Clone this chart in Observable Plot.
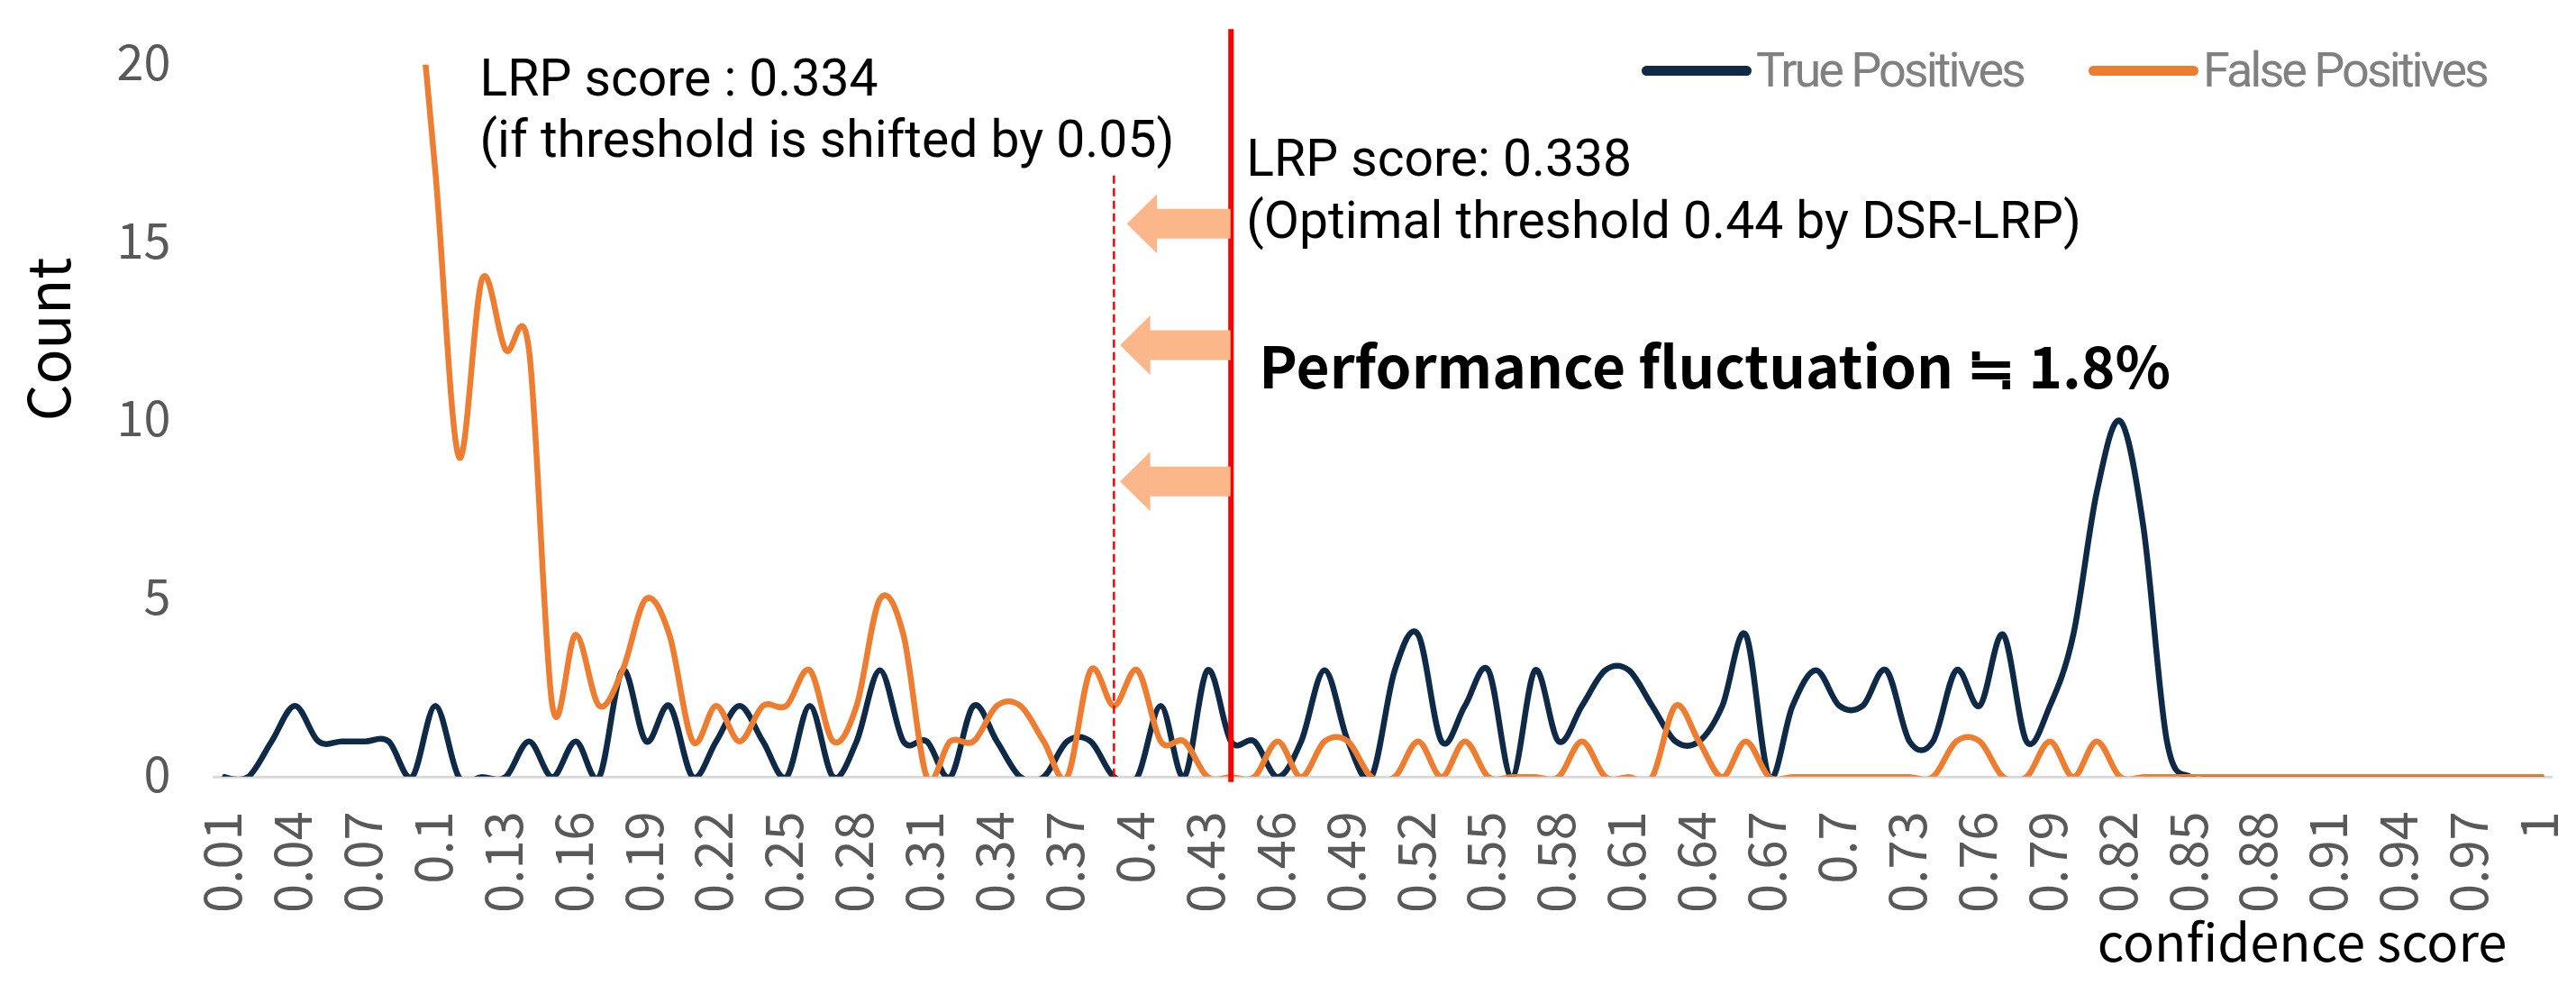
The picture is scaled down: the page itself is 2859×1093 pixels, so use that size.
<!DOCTYPE html>
<html>
<head>
<meta charset="utf-8">
<script src="https://cdn.jsdelivr.net/npm/d3@7"></script>
<script src="https://cdn.jsdelivr.net/npm/@observablehq/plot@0.6"></script>
<style>
  html, body { margin: 0; padding: 0; background: #fff; }
  #wrap { position: relative; width: 2859px; height: 1093px; overflow: hidden; }
  .lg-swatch { position: absolute; height: 11px; border-radius: 6px; }
  .lg-text { position: absolute; font-family: Roboto, "Noto Sans", sans-serif; font-size: 54px; color: #808080;
             letter-spacing: -3px; line-height: 1; white-space: nowrap; }
</style>
</head>
<body>
<div id="wrap"></div>
<script>
// ---- data ----
const scores = [
  0.01,0.02,0.03,0.04,0.05,0.06,0.07,0.08,0.09,0.10,
  0.11,0.12,0.13,0.14,0.15,0.16,0.17,0.18,0.19,0.20,
  0.21,0.22,0.23,0.24,0.25,0.26,0.27,0.28,0.29,0.30,
  0.31,0.32,0.33,0.34,0.35,0.36,0.37,0.38,0.39,0.40,
  0.41,0.42,0.43,0.44,0.45,0.46,0.47,0.48,0.49,0.50,
  0.51,0.52,0.53,0.54,0.55,0.56,0.57,0.58,0.59,0.60,
  0.61,0.62,0.63,0.64,0.65,0.66,0.67,0.68,0.69,0.70,
  0.71,0.72,0.73,0.74,0.75,0.76,0.77,0.78,0.79,0.80,
  0.81,0.82,0.83,0.84,0.85,0.86,0.87,0.88,0.89,0.90,
  0.91,0.92,0.93,0.94,0.95,0.96,0.97,0.98,0.99,1.00
];
const truePositives = [
  0,0,1,2,1,1,1,1,0,2,
  0,0,0,1,0,1,0,3,1,2,
  0,1,2,1,0,2,0,1,3,1,
  1,0,2,1,0,0,1,1,0,0,
  2,0,3,1,1,0,1,3,1,0,
  3,4,1,2,3,0,3,1,2,3,
  3,2,1,1,2,4,0,2,3,2,
  2,3,1,1,3,2,4,1,2,4,
  8,10,7,1,0,0,0,0,0,0,
  0,0,0,0,0,0,0,0,0,0
];
// low-score false positives run off the top of the 0–20 axis (clipped); unreadable bins left null
const falsePositives = [
  null,null,null,null,null,null,null,null,24,17,
  9,14,12,12,2,4,2,3,5,4,
  1,2,1,2,2,3,1,2,5,4,
  0,1,1,2,2,1,0,3,2,3,
  1,1,0,0,0,1,0,1,1,0,
  0,1,0,1,0,0,0,0,1,0,
  0,0,2,1,0,1,0,0,0,0,
  0,0,0,0,1,1,0,0,1,0,
  1,0,0,0,0,0,0,0,0,0,
  0,0,0,0,0,0,0,0,0,0
];
const xTickValues = [0.01,0.04,0.07,0.10,0.13,0.16,0.19,0.22,0.25,0.28,0.31,0.34,0.37,0.40,0.43,0.46,0.49,
  0.52,0.55,0.58,0.61,0.64,0.67,0.70,0.73,0.76,0.79,0.82,0.85,0.88,0.91,0.94,0.97,1.00];
const yTickValues = [0, 5, 10, 15, 20];
const seriesNames = ["True Positives", "False Positives"];
const seriesColors = ["#0e2a47", "#ed7d31"];

const optimalThreshold = 0.44;
const shiftedThreshold = 0.39;

const notes = [
  {text: "LRP score : 0.334\n(if threshold is shifted by 0.05)", x: 0.119, y: 18.835},
  {text: "LRP score: 0.338\n(Optimal threshold 0.44 by DSR-LRP)", x: 0.4466, y: 16.57}
];
const headline = [{text: "Performance fluctuation \u2252 1.8%", x: 0.452, y: 11.43}];
const arrows = [
  {y: 15.54, tip: 0.3955, base: 0.408},
  {y: 12.13, tip: 0.3926, base: 0.4055},
  {y: 8.30, tip: 0.3926, base: 0.4055}
];

// ---- tables ----
const tpRows = scores.map((s, i) => ({score: s, count: truePositives[i]}));
const fpRows = scores.map((s, i) => ({score: s, count: falsePositives[i]}));

const arrowHead = {
  draw(ctx, size) {
    const r = Math.sqrt(size / Math.PI);
    ctx.moveTo(0, 0);
    ctx.lineTo(r + 0.5, -r);
    ctx.lineTo(r + 0.5, r);
    ctx.closePath();
  }
};

const fmt = d => String(+d.toFixed(2));
const arrowColor = "#fbb68a";

const chart = Plot.plot({
  width: 2859,
  height: 1093,
  marginLeft: 236,
  marginRight: 26,
  marginTop: 71.7,
  marginBottom: 231.3,
  style: {fontFamily: "'Noto Sans CJK KR', 'Noto Sans', sans-serif", background: "#fff", overflow: "visible"},
  x: {domain: [0.005, 1.005]},
  y: {domain: [0, 20]},
  marks: [
    Plot.ruleY([0], {stroke: "#d9d9d9", strokeWidth: 3}),
    Plot.axisY({ticks: yTickValues, tickSize: 0, tickPadding: 47, fontSize: 54, color: "#595959", label: null}),
    Plot.axisX({ticks: xTickValues, tickFormat: fmt, tickRotate: -90, tickSize: 0, tickPadding: 38,
                fontSize: 58, color: "#595959", label: null}),
    Plot.line(tpRows, {x: "score", y: "count", stroke: seriesColors[0], strokeWidth: 6.5,
                       curve: "cardinal", tension: 0, clip: true, strokeLinecap: "round", strokeLinejoin: "round"}),
    Plot.line(fpRows, {x: "score", y: "count", stroke: seriesColors[1], strokeWidth: 6.5,
                       curve: "cardinal", tension: 0, clip: true, strokeLinecap: "round", strokeLinejoin: "round"}),
    Plot.ruleX([shiftedThreshold], {y1: 0, y2: 16.9, stroke: "#ff0000", strokeWidth: 2.5, strokeDasharray: "9,5"}),
    Plot.ruleX([optimalThreshold], {y1: -0.15, y2: 21, stroke: "#ff0000", strokeWidth: 6}),
    Plot.ruleY(arrows, {y: "y", x1: "base", x2: () => optimalThreshold, stroke: arrowColor, strokeWidth: 33}),
    Plot.dot(arrows, {x: "tip", y: "y", r: 33, symbol: arrowHead, fill: arrowColor, stroke: "none"}),
    Plot.text(notes, {x: "x", y: "y", text: "text", fontSize: 57, lineHeight: 1.2, fontFamily: "Roboto, sans-serif",
                      textAnchor: "start", lineAnchor: "middle", fill: "#000"}),
    Plot.text(headline, {x: "x", y: "y", text: "text", fontSize: 64, fontWeight: "bold",
                         textAnchor: "start", lineAnchor: "middle", fill: "#000"}),
    Plot.text(["Count"], {text: d => d, frameAnchor: "left", dx: -179, rotate: -90, fontSize: 64,
                          fill: "#000", lineAnchor: "middle"}),
    Plot.text(["confidence score"], {text: d => d, frameAnchor: "bottom-right", dx: -51, dy: 186,
                          textAnchor: "end", lineAnchor: "middle", fontSize: 58, fill: "#000"})
  ]
});

const wrap = document.getElementById("wrap");
wrap.appendChild(chart);

// legend (HTML, overlaid top-right as in the original)
const legendItems = [
  {name: seriesNames[0], color: seriesColors[0], left: 1822},
  {name: seriesNames[1], color: seriesColors[1], left: 2318}
];
legendItems.forEach(it => {
  const sw = document.createElement("div");
  sw.className = "lg-swatch";
  sw.style.left = it.left + "px";
  sw.style.top = "73px";
  sw.style.width = "122px";
  sw.style.background = it.color;
  wrap.appendChild(sw);
  const tx = document.createElement("div");
  tx.className = "lg-text";
  tx.style.left = (it.left + 127) + "px";
  tx.style.top = "51px";
  tx.textContent = it.name;
  wrap.appendChild(tx);
});
</script>
</body>
</html>
